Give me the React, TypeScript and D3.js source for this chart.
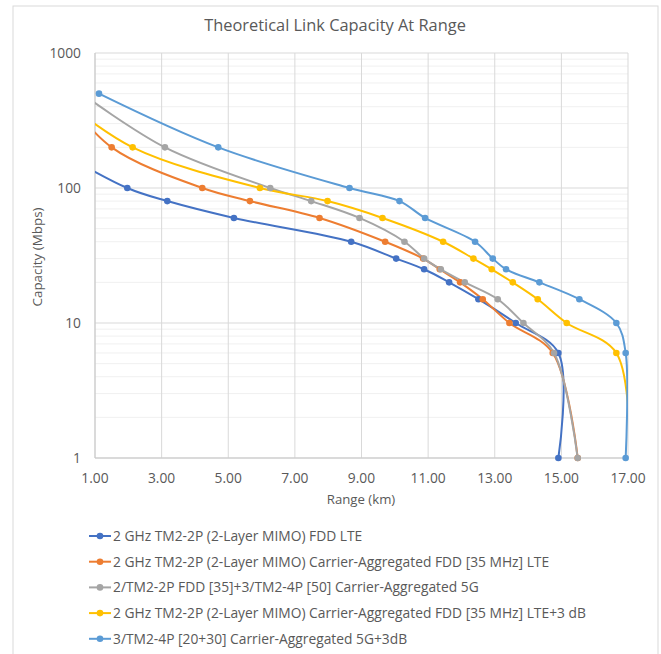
import React from "react";
import * as d3 from "d3";

// Range (km) at which each series reaches a given capacity (Mbps).
// Points outside the 1..17 km axis are only there so the line enters the plot the way Excel clips it.
const seriesNames = [
  "2 GHz TM2-2P (2-Layer MIMO) FDD LTE",
  "2 GHz TM2-2P (2-Layer MIMO) Carrier-Aggregated FDD [35 MHz] LTE",
  "2/TM2-2P FDD [35]+3/TM2-4P [50] Carrier-Aggregated 5G",
  "2 GHz TM2-2P (2-Layer MIMO) Carrier-Aggregated FDD [35 MHz] LTE+3 dB",
  "3/TM2-4P [20+30] Carrier-Aggregated 5G+3dB",
];
const seriesColors = ["#4472C4", "#ED7D31", "#A5A5A5", "#FFC000", "#5B9BD5"];

const lteRange = [-0.3, 1.97, 3.17, 5.17, 8.69, 10.04, 10.88, 11.63, 12.51, 13.63, 14.91, 14.91];
const lteCap = [200, 100, 80, 60, 40, 30, 25, 20, 15, 10, 6, 1];

const caRange = [0.0, 1.5, 4.22, 5.65, 7.74, 9.71, 10.85, 11.35, 11.96, 12.64, 13.44, 14.74, 15.49];
const caCap = [500, 200, 100, 80, 60, 40, 30, 25, 20, 15, 10, 6, 1];

const nrRange = [0.6, 3.1, 6.26, 7.49, 8.94, 10.29, 10.88, 11.38, 12.1, 13.09, 13.86, 14.78, 15.49];
const nrCap = [500, 200, 100, 80, 60, 40, 30, 25, 20, 15, 10, 6, 1];

const caPlusRange = [-0.2, 2.13, 5.95, 7.98, 9.63, 11.45, 12.36, 12.91, 13.54, 14.29, 15.16, 16.65, 17.05];
const caPlusCap = [500, 200, 100, 80, 60, 40, 30, 25, 20, 15, 10, 6, 1];

const nrPlusRange = [1.12, 4.7, 8.64, 10.14, 10.91, 12.41, 12.94, 13.34, 14.34, 15.54, 16.65, 16.93, 16.93];
const nrPlusCap = [500, 200, 100, 80, 60, 40, 30, 25, 20, 15, 10, 6, 1];

const seriesRanges = [lteRange, caRange, nrRange, caPlusRange, nrPlusRange];
const seriesCaps = [lteCap, caCap, nrCap, caPlusCap, nrPlusCap];

const xTicks = [1, 3, 5, 7, 9, 11, 13, 15, 17];
const yTicks = [1, 10, 100, 1000];

const W = 661;
const H = 654;
const FONT = "'Open Sans', sans-serif";
const TEXT = "#595959";

export default function App() {
  const plot = { left: 95, right: 628, top: 53, bottom: 458 };

  const x = d3.scaleLinear().domain([1, 17]).range([plot.left, plot.right]);
  const y = d3.scaleLog().domain([1, 1000]).range([plot.bottom, plot.top]);

  const minorY: number[] = [];
  [1, 10, 100].forEach((d) => {
    for (let k = 2; k <= 9; k++) minorY.push(d * k);
  });

  const line = d3
    .line<[number, number]>()
    .x((d) => x(d[0]))
    .y((d) => y(d[1]))
    .curve(d3.curveCatmullRom.alpha(0.5));

  const series = seriesNames.map((name, i) => ({
    name,
    color: seriesColors[i],
    points: seriesRanges[i].map((r, j) => [r, seriesCaps[i][j]] as [number, number]),
  }));

  const legendTop = 536;
  const legendStep = 25.7;

  return (
    <svg
      width={W}
      height={H}
      style={{ position: "absolute", left: 0, top: 0, background: "#fff" }}
      fontFamily={FONT}
    >
      <defs>
        <clipPath id="plot-clip">
          <rect x={plot.left} y={plot.top - 20} width={plot.right - plot.left} height={plot.bottom - plot.top + 40} />
        </clipPath>
      </defs>

      {/* Marco del gráfico */}
      <rect x={13} y={6} width={645} height={700} fill="#fff" stroke="#d9d9d9" strokeWidth={1} />

      <text x={335} y={31} textAnchor="middle" fontSize={16.4} fill={TEXT}>
        Theoretical Link Capacity At Range
      </text>

      {/* Rejilla */}
      <g>
        {minorY.map((d) => (
          <line key={"m" + d} x1={plot.left} x2={plot.right} y1={y(d)} y2={y(d)} stroke="#f0f0f0" />
        ))}
        {yTicks.map((d) => (
          <line key={"y" + d} x1={plot.left} x2={plot.right} y1={y(d)} y2={y(d)} stroke="#d9d9d9" />
        ))}
        {xTicks.map((d) => (
          <line key={"x" + d} x1={x(d)} x2={x(d)} y1={plot.top} y2={plot.bottom} stroke="#d9d9d9" />
        ))}
        <line x1={plot.left} x2={plot.left} y1={plot.top} y2={plot.bottom} stroke="#c8c8c8" />
        <line x1={plot.left} x2={plot.right} y1={plot.bottom} y2={plot.bottom} stroke="#c8c8c8" />
      </g>

      {/* Etiquetas de ejes */}
      <g fontSize={13.8} fill={TEXT}>
        {yTicks.map((d) => (
          <text key={d} x={81} y={y(d)} dy="0.35em" textAnchor="end">
            {d}
          </text>
        ))}
        {xTicks.map((d) => (
          <text key={d} x={x(d)} y={483} textAnchor="middle">
            {d.toFixed(2)}
          </text>
        ))}
      </g>
      <text x={361} y={504} textAnchor="middle" fontSize={13.2} fill={TEXT}>
        Range (km)
      </text>
      <text
        transform={`translate(42, 257) rotate(-90)`}
        textAnchor="middle"
        fontSize={13.4}
        fill={TEXT}
      >
        Capacity (Mbps)
      </text>

      {/* Series */}
      <g clipPath="url(#plot-clip)">
        {series.map((s) => (
          <path key={s.name} d={line(s.points) || ""} fill="none" stroke={s.color} strokeWidth={2} />
        ))}
      </g>
      {series.map((s) => (
        <g key={s.name + "-m"} fill={s.color}>
          {s.points
            .filter((p) => p[0] >= 1 && p[0] <= 17)
            .map((p, j) => (
              <circle key={j} cx={x(p[0])} cy={y(p[1])} r={3.3} />
            ))}
        </g>
      ))}

      {/* Leyenda */}
      {series.map((s, i) => {
        const ly = legendTop + i * legendStep;
        return (
          <g key={s.name + "-l"}>
            <line x1={89} x2={111} y1={ly} y2={ly} stroke={s.color} strokeWidth={2} />
            <circle cx={100} cy={ly} r={3.3} fill={s.color} />
            <text x={113} y={ly} dy="0.35em" fontSize={13.8} fill={TEXT}>
              {s.name}
            </text>
          </g>
        );
      })}
    </svg>
  );
}
